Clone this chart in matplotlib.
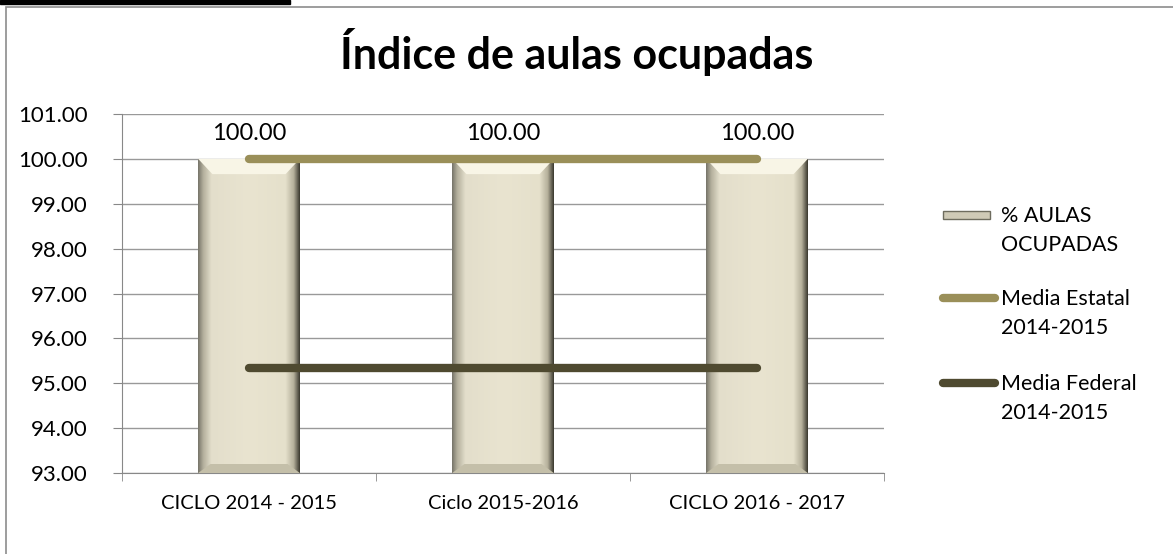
import matplotlib.pyplot as plt
import matplotlib.patches as mpatches
from matplotlib.colors import LinearSegmentedColormap
import numpy as np

plt.rcParams['font.family'] = ['Lato', 'DejaVu Sans']

categories = ['CICLO 2014 - 2015', 'Ciclo 2015-2016', 'CICLO 2016 - 2017']
aulas = [100.0, 100.0, 100.0]
media_estatal = [100.0, 100.0, 100.0]
media_federal = [95.35, 95.35, 95.35]
yticks = [93, 94, 95, 96, 97, 98, 99, 100, 101]
legend_labels = ['% AULAS\nOCUPADAS', 'Media Estatal\n2014-2015', 'Media Federal\n2014-2015']

W, H = 1173, 554
fig = plt.figure(figsize=(W / 100, H / 100), dpi=100)

# outer frame and black strip at top-left
fig.patches.append(mpatches.Rectangle((6 / W, -0.01), 1.0, 1 - 7 / H + 0.01,
                                      transform=fig.transFigure, fill=False,
                                      edgecolor='#8c8c8c', linewidth=1.2))
fig.patches.append(mpatches.Rectangle((0, 1 - 4 / H), 290 / W, 4 / H,
                                      transform=fig.transFigure, color='black'))

ax = fig.add_axes([122 / W, 1 - 473 / H, (884 - 122) / W, (473 - 114) / H])
x = np.arange(len(categories))

bars = ax.bar(x, aulas, width=0.4, bottom=0, color='#e8e3ce', zorder=2)

# bevel-like shading on the bars
cmap = LinearSegmentedColormap.from_list('bev', [
    (0.0, '#77756a'), (0.05, '#b3af9c'), (0.13, '#e3decb'), (0.5, '#e9e4d0'),
    (0.86, '#e5e0cb'), (0.94, '#b5b09b'), (1.0, '#3b392f')])
grad = np.linspace(0, 1, 256).reshape(1, -1)
for b in bars:
    x0, w = b.get_x(), b.get_width()
    im = ax.imshow(grad, cmap=cmap, aspect='auto', extent=(x0, x0 + w, 93, b.get_height()),
                   zorder=2.5)
    im.set_clip_path(b)
    top = mpatches.Polygon([(x0, 100), (x0 + w, 100), (x0 + w * 0.86, 99.66),
                            (x0 + w * 0.14, 99.66)], closed=True,
                           facecolor='#f8f5e6', edgecolor='none', zorder=2.6)
    ax.add_patch(top)
    bot = mpatches.Polygon([(x0, 93), (x0 + w, 93), (x0 + w * 0.88, 93.2),
                            (x0 + w * 0.12, 93.2)], closed=True,
                           facecolor='#c4bfa9', edgecolor='none', zorder=2.6)
    ax.add_patch(bot)
    ax.text(b.get_x() + w / 2, b.get_height() + 0.56, f'{b.get_height():.2f}',
            ha='center', va='center', fontsize=17)

ax.plot(x, media_estatal, color='#9a8f59', linewidth=6, solid_capstyle='round', zorder=3)
ax.plot(x, media_federal, color='#4f4a30', linewidth=6, solid_capstyle='round', zorder=3)

ax.set_xlim(-0.5, 2.5)
ax.set_ylim(93, 101)
ax.set_yticks(yticks)
ax.set_yticklabels([f'{v:.2f}' for v in yticks], fontsize=16)
ax.yaxis.grid(True, color='#999999', linewidth=1)
ax.set_axisbelow(True)
ax.set_xticks(x)
ax.set_xticklabels(categories, fontsize=14.5)
ax.set_xticks([-0.5, 0.5, 1.5, 2.5], minor=True)
ax.tick_params(axis='x', which='major', length=0, pad=16)
ax.tick_params(axis='x', which='minor', length=6, color='#888888')
ax.tick_params(axis='y', length=6.5, color='#888888', pad=18)
for s in ['top', 'right']:
    ax.spines[s].set_visible(False)
ax.spines['left'].set_color('#888888')
ax.spines['bottom'].set_color('#888888')

fig.text(577 / W, 1 - 52 / H, 'Índice de aulas ocupadas', ha='center', va='center',
         fontsize=31, fontweight='bold')

# legend, handles aligned with the first line of each label
first_line_y = [215, 298, 383]
for i, (lab, yy) in enumerate(zip(legend_labels, first_line_y)):
    fy = 1 - yy / H
    if i == 0:
        fig.patches.append(mpatches.Rectangle((943 / W, fy - 4 / H), 47 / W, 8 / H,
                                              transform=fig.transFigure,
                                              facecolor='#cfcab6', edgecolor='#6e6c5e',
                                              linewidth=1))
    else:
        col = '#9a8f59' if i == 1 else '#4f4a30'
        fig.lines.append(plt.Line2D([943 / W, 995 / W], [fy, fy], transform=fig.transFigure,
                                    color=col, linewidth=6, solid_capstyle='round'))
    fig.text(1001 / W, fy + 9 / H, lab, ha='left', va='top', fontsize=15.5,
             linespacing=1.55)

fig.savefig('out.png', dpi=100)
